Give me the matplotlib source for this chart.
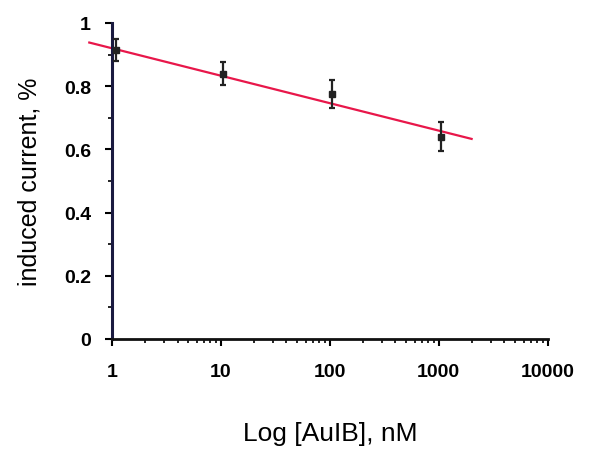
import matplotlib.pyplot as plt
import numpy as np

conc = [1.1, 10.5, 105, 1050]
current = [0.915, 0.84, 0.775, 0.64]
err = [0.035, 0.035, 0.045, 0.045]

fit_x = [0.62, 2000]
fit_y = [0.938, 0.633]

plt.rcParams["font.family"] = ["Liberation Sans", "DejaVu Sans"]

fig = plt.figure(figsize=(5.89, 4.52), dpi=100)
ax = fig.add_axes([0.19, 0.248, 0.74, 0.699])

ax.plot(fit_x, fit_y, color="#e8174a", lw=1.6, clip_on=False, zorder=2)
ax.errorbar(conc, current, yerr=err, fmt="s", color="#222222", ms=4,
            capsize=2.5, elinewidth=1.6, capthick=1.6, zorder=3, clip_on=False)

ax.set_xscale("log")
ax.set_xlim(1, 10000)
ax.set_ylim(0, 1)
ax.set_yticks([0, 0.2, 0.4, 0.6, 0.8, 1])
ax.set_yticklabels(["0", "0.2", "0.4", "0.6", "0.8", "1"])
ax.set_yticks(np.arange(0.1, 1.0, 0.2), minor=True)
ax.set_xticks([1, 10, 100, 1000, 10000])
ax.set_xticklabels(["1", "10", "100", "1000", "10000"])

for s in ["top", "right"]:
    ax.spines[s].set_visible(False)
ax.spines["left"].set_linewidth(2.2)
ax.spines["left"].set_color("#1a1a40")
ax.spines["bottom"].set_linewidth(2.0)
ax.spines["bottom"].set_color("#111111")

ax.tick_params(axis="both", which="major", direction="out", length=5, width=1.5,
               labelsize=14, pad=10)
ax.tick_params(axis="both", which="minor", direction="out", length=3, width=1.2)
for lbl in ax.get_xticklabels() + ax.get_yticklabels():
    lbl.set_fontweight("bold")
ax.tick_params(axis="x", pad=12)

ax.set_ylabel("induced current, %", fontsize=18, labelpad=16)
ax.set_xlabel("Log [AuIB], nM", fontsize=19, labelpad=30)

fig.savefig("out.png", dpi=100)
